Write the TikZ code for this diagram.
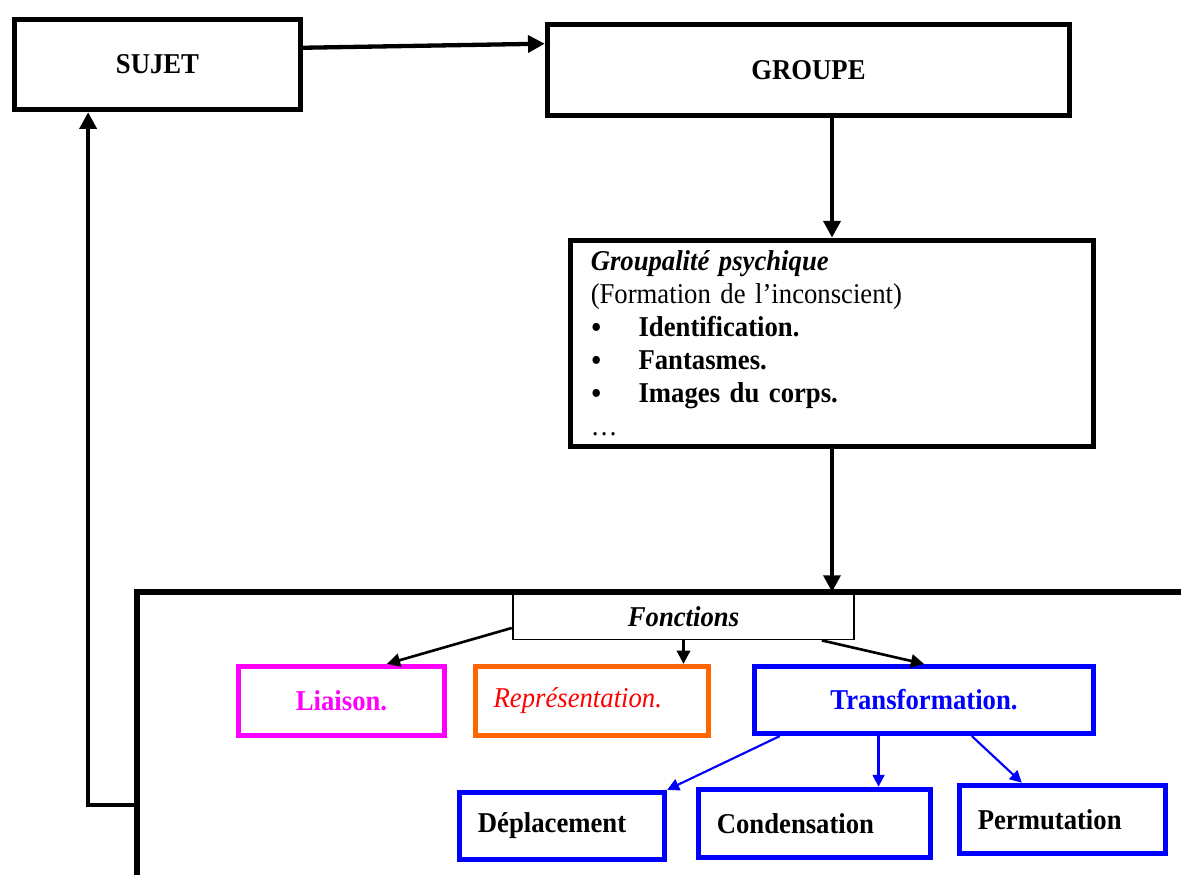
\documentclass[tikz,border=0pt]{standalone}
\usepackage{fontspec}
\setmainfont{Liberation Serif}[FakeStretch=0.93]
\usetikzlibrary{arrows.meta}
\definecolor{orangeboite}{RGB}{255,102,0}
\definecolor{magentaboite}{RGB}{255,0,255}
\newcommand{\puce}{\makebox[20pt][l]{\raisebox{-0.8pt}{\fontsize{14pt}{14pt}\selectfont•}}}
\begin{document}
\begin{tikzpicture}[
			x=0.0147cm, y=-0.0147cm,
			every node/.style={
					align=center,
					font=\fontsize{12pt}{13.8pt}\selectfont\bfseries,
					inner sep=0pt
				},
			boite/.style={draw, line width=2.3pt, fill=white},
			gauche/.style={align=left, inner xsep=0.27cm},
			fleche/.style={-{Triangle[length=7pt,width=7pt]}, line width=1.8pt},
			petitefleche/.style={-{Triangle[length=5.5pt,width=5.5pt]}, line width=1.1pt},
			fleblue/.style={-{Triangle[length=5pt,width=5pt]}, line width=0.9pt, blue}
		]
		\useasboundingbox (0,0) rectangle (1181,875);
		\node[boite, minimum width=4.20cm, minimum height=1.32cm] (sujet) at (157.5,64.5) {SUJET};
		\node[boite, minimum width=7.67cm, minimum height=1.34cm] (groupe) at (808.5,70) {GROUPE};
		\node[boite, minimum width=7.69cm, minimum height=3.03cm, text width=7.09cm,
			inner xsep=0.3cm, align=left, font=\fontsize{12pt}{13.8pt}\selectfont] (groupalite) at (832,343.5)
			{\textbf{\textit{Groupalité psychique}}\\
			(Formation de l’inconscient)\\
			\puce\textbf{Identification.}\\
			\puce\textbf{Fantasmes.}\\
			\puce\textbf{Images du corps.}\\
			…};
		\coordinate (cadre) at (137,592);
		\coordinate (retour) at (137,805);
		\draw[line width=2.3pt] (137,880) -- (cadre) -- (1190,592);
		\node[draw, line width=0.8pt, fill=white, minimum width=5.02cm, minimum height=0.66cm,
			font=\fontsize{12pt}{13.8pt}\selectfont\bfseries\itshape] (fonctions) at (683.5,617) {Fonctions};
		\node[boite, draw=magentaboite, text=magentaboite, minimum width=3.03cm, minimum height=1.01cm] (liaison) at (341.5,701) {Liaison.};
		\node[boite, gauche, draw=orangeboite, text=red, text width=2.89cm, minimum height=1.01cm,
			font=\fontsize{12pt}{13.8pt}\selectfont\itshape] (representation) at (592,701) {Représentation.};
		\node[boite, draw=blue, text=blue, minimum width=4.98cm, minimum height=0.98cm] (transformation) at (924,700) {Transformation.};
		\node[boite, gauche, draw=blue, text width=2.47cm, minimum height=0.98cm] (deplacement) at (562,826) {Déplacement};
		\node[boite, gauche, draw=blue, text width=2.87cm, minimum height=1.0cm] (condensation) at (814.5,823.5) {Condensation};
		\node[boite, gauche, draw=blue, text width=2.49cm, minimum height=1.0cm] (permutation) at (1062.5,819.5) {Permutation};
		\draw[fleche] ([yshift=7pt]sujet.east) -- ([yshift=11pt]groupe.west);
		\draw[fleche] (groupalite.north |- groupe.south) -- (groupalite.north);
		\draw[fleche] (groupalite.south) -- (groupalite.south |- cadre);
		\draw[fleche] (retour) -| ([xshift=-29pt]sujet.south);
		\draw[petitefleche] ([yshift=-4.6pt]fonctions.west) -- ([xshift=19pt]liaison.north);
		\draw[petitefleche] (fonctions.south) -- (fonctions.south |- representation.north);
		\draw[petitefleche] ([xshift=-14pt]fonctions.south east) -- (transformation.north);
		\draw[fleblue] ([xshift=11.7pt]transformation.south west) -- (deplacement.north east);
		\draw[fleblue] ([xshift=-19pt]transformation.south) -- ([xshift=-19pt]transformation.south |- condensation.north);
		\draw[fleblue] ([xshift=20pt]transformation.south) -- ([xshift=-17pt]permutation.north);
	\end{tikzpicture}
\end{document}
